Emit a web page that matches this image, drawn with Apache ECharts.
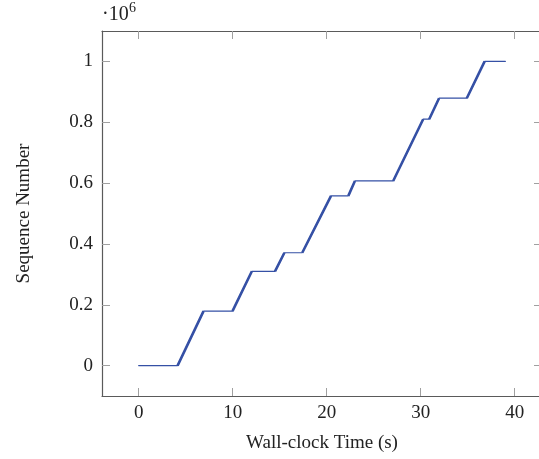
<!DOCTYPE html>
<html>
<head>
<meta charset="utf-8">
<script src="https://cdn.jsdelivr.net/npm/echarts@6/dist/echarts.min.js"></script>
<style>
html,body{margin:0;padding:0;background:#fff;overflow:hidden;width:539px;height:459px;}
#chart{width:546px;height:459px;}
</style>
</head>
<body>
<div id="chart"></div>
<script>
// Data
const times = [0, 4.14, 6.9, 9.98, 12.04, 14.5, 15.5, 17.4, 20.46, 22.3, 23.0, 27.07, 30.26, 30.9, 31.95, 34.9, 36.8, 39.0];
const seqNums = [0, 0, 179000, 179000, 310000, 310000, 371000, 371000, 558000, 558000, 607000, 607000, 810000, 810000, 879000, 879000, 1000000, 1000000];
const xTicks = [0, 10, 20, 30, 40];
const yTicks = [0, 200000, 400000, 600000, 800000, 1000000];
const xTitle = 'Wall-clock Time (s)';
const yTitle = 'Sequence Number';

const FONT = '"Liberation Serif", "DejaVu Serif", serif';
const LINE = '#3550a5';

const allPts = times.map((t, i) => [t, seqNums[i]]);
const risingPts = [];
for (let i = 0; i < times.length - 1; i++) {
  if (seqNums[i + 1] !== seqNums[i]) {
    risingPts.push([times[i], seqNums[i]], [times[i + 1], seqNums[i + 1]], '-');
  }
}

const xMin = -3.9, xMax = 42.9, yMin = -100000, yMax = 1100000;
const axisLineStyle = {color: '#5a5a5a', width: 1.2};
const tickStyle = {color: '#a0a0a0', width: 1};

const chart = echarts.init(document.getElementById('chart'), null, {renderer: 'canvas'});
chart.setOption({
  animation: false,
  backgroundColor: '#fff',
  grid: {left: 102, top: 31, width: 440, height: 365, containLabel: false},
  xAxis: [{
    type: 'value', min: xMin, max: xMax, position: 'bottom',
    name: xTitle, nameLocation: 'middle', nameGap: 38,
    nameTextStyle: {fontFamily: FONT, fontSize: 19, color: '#222'},
    axisLine: {show: true, onZero: false, lineStyle: axisLineStyle},
    axisTick: {show: true, inside: true, length: 8, customValues: xTicks, lineStyle: tickStyle},
    axisLabel: {show: true, customValues: xTicks, fontFamily: FONT, fontSize: 19, color: '#222', margin: 8},
    splitLine: {show: false}
  }, {
    type: 'value', min: xMin, max: xMax, position: 'top',
    axisLine: {show: true, onZero: false, lineStyle: axisLineStyle},
    axisTick: {show: true, inside: true, length: 8, customValues: xTicks, lineStyle: tickStyle},
    axisLabel: {show: false},
    splitLine: {show: false}
  }],
  yAxis: [{
    type: 'value', min: yMin, max: yMax, position: 'left',
    name: yTitle, nameLocation: 'middle', nameGap: 68, nameRotate: 90,
    nameTextStyle: {fontFamily: FONT, fontSize: 19, color: '#222'},
    axisLine: {show: true, onZero: false, lineStyle: axisLineStyle},
    axisTick: {show: true, inside: true, length: 8, customValues: yTicks, lineStyle: tickStyle},
    axisLabel: {show: true, customValues: yTicks, fontFamily: FONT, fontSize: 19, color: '#222', margin: 9,
      formatter: v => String(Math.round(v / 1e5) / 10)},
    splitLine: {show: false}
  }, {
    type: 'value', min: yMin, max: yMax, position: 'right',
    axisLine: {show: true, onZero: false, lineStyle: axisLineStyle},
    axisTick: {show: true, inside: true, length: 8, customValues: yTicks, lineStyle: tickStyle},
    axisLabel: {show: false},
    splitLine: {show: false}
  }],
  graphic: [
    {type: 'text', left: 102, top: 5, style: {text: '·10', fontFamily: FONT, fontSize: 20, fill: '#222'}},
    {type: 'text', left: 129, top: 1, style: {text: '6', fontFamily: FONT, fontSize: 14, fill: '#222'}}
  ],
  series: [{
    type: 'line', data: allPts, xAxisIndex: 0, yAxisIndex: 0,
    showSymbol: false, symbol: 'none',
    lineStyle: {color: LINE, width: 1.2, cap: 'round'},
    silent: true
  }, {
    type: 'line', data: risingPts, xAxisIndex: 0, yAxisIndex: 0,
    showSymbol: false, symbol: 'none', connectNulls: false,
    lineStyle: {color: LINE, width: 2.6, cap: 'butt'},
    silent: true
  }]
});
</script>
</body>
</html>
